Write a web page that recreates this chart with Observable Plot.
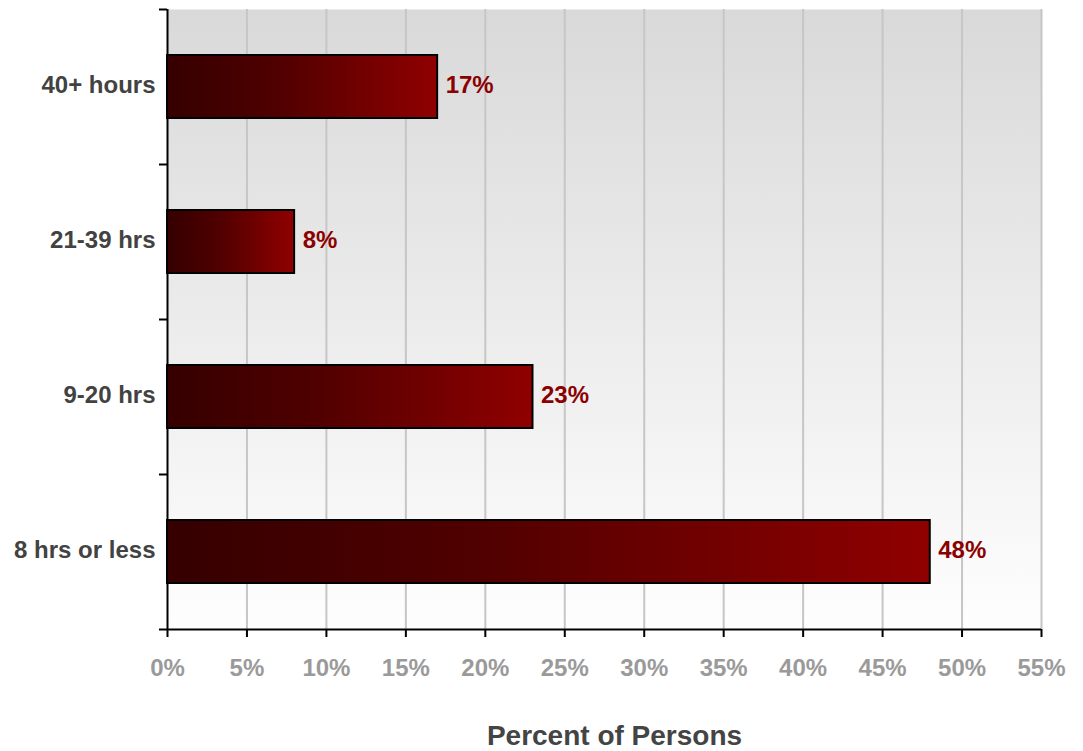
<!DOCTYPE html>
<html><head><meta charset="utf-8">
<script src="https://cdn.jsdelivr.net/npm/d3@7"></script>
<script src="https://cdn.jsdelivr.net/npm/@observablehq/plot@0.6"></script>
<style>body{margin:0;background:#fff;} svg{display:block}</style>
</head><body><div id="chart"></div>
<script>
const categories = ["40+ hours", "21-39 hrs", "9-20 hrs", "8 hrs or less"];
const values = [17, 8, 23, 48];
const xTicks = [0, 5, 10, 15, 20, 25, 30, 35, 40, 45, 50, 55];
const axisTitle = "Percent of Persons";

const data = categories.map((c, i) => ({category: c, value: values[i]}));

const W = 1083, H = 751, mL = 167, mR = 42, mT = 9, mB = 122;
const plotW = W - mL - mR;
const step = (H - mT - mB) / categories.length;
const font = "'Liberation Sans', Arial, sans-serif";

const svg = Plot.plot({
  width: W, height: H,
  marginLeft: mL, marginRight: mR, marginTop: mT, marginBottom: mB,
  style: {fontFamily: font, background: "transparent", overflow: "visible"},
  x: {domain: [0, 55], label: null, axis: null},
  y: {domain: categories, paddingInner: 0.594, paddingOuter: 0.297, label: null, axis: null},
  marks: [
    Plot.frame({fill: "url(#bgGrad)", stroke: "none"}),
    Plot.ruleX(xTicks.filter(t => t > 0), {stroke: "#c6c6c6", strokeWidth: 2}),
    Plot.axisX(xTicks, {
      tickSize: 8, tickPadding: 21, tickFormat: d => d + "%",
      fontSize: 24, fontWeight: "bold", fill: "#9a9a9a", stroke: "black", strokeWidth: 2, label: null
    }),
    Plot.axisY({tickSize: 0, tickPadding: 12, dy: -2, fontSize: 24, fontWeight: "bold", fill: "#424242", label: null}),
    Plot.ruleY(categories, {y: d => d, dy: -step / 2, insetLeft: -8, insetRight: plotW, stroke: "black", strokeWidth: 2}),
    Plot.ruleY(categories.slice(-1), {y: d => d, dy: step / 2, insetLeft: -8, stroke: "black", strokeWidth: 2}),
    Plot.ruleX([0], {stroke: "black", strokeWidth: 2}),
    Plot.barX(data, {x: "value", y: "category", fill: "url(#barGrad)", stroke: "black", strokeWidth: 2}),
    Plot.text(data, {x: "value", y: "category", text: d => d.value + "%", dx: 8, dy: -2, textAnchor: "start",
      fill: "#8b0000", fontWeight: "bold", fontSize: 24}),
    Plot.text([axisTitle], {text: d => d, frameAnchor: "bottom", dy: 115, dx: 10,
      fill: "#444444", fontWeight: "bold", fontSize: 28, letterSpacing: "0.5px"})
  ]
});

const ns = "http://www.w3.org/2000/svg";
const defs = document.createElementNS(ns, "defs");
defs.innerHTML = `
  <linearGradient id="bgGrad" x1="0" y1="0" x2="0" y2="1">
    <stop offset="0" stop-color="#d9d9d9"/>
    <stop offset="1" stop-color="#fefefe"/>
  </linearGradient>
  <linearGradient id="barGrad" x1="0" y1="0" x2="1" y2="0">
    <stop offset="0" stop-color="#350000"/>
    <stop offset="0.4" stop-color="#4f0000"/>
    <stop offset="1" stop-color="#900000"/>
  </linearGradient>`;
svg.insertBefore(defs, svg.firstChild);
document.getElementById("chart").appendChild(svg);
</script>
</body></html>
